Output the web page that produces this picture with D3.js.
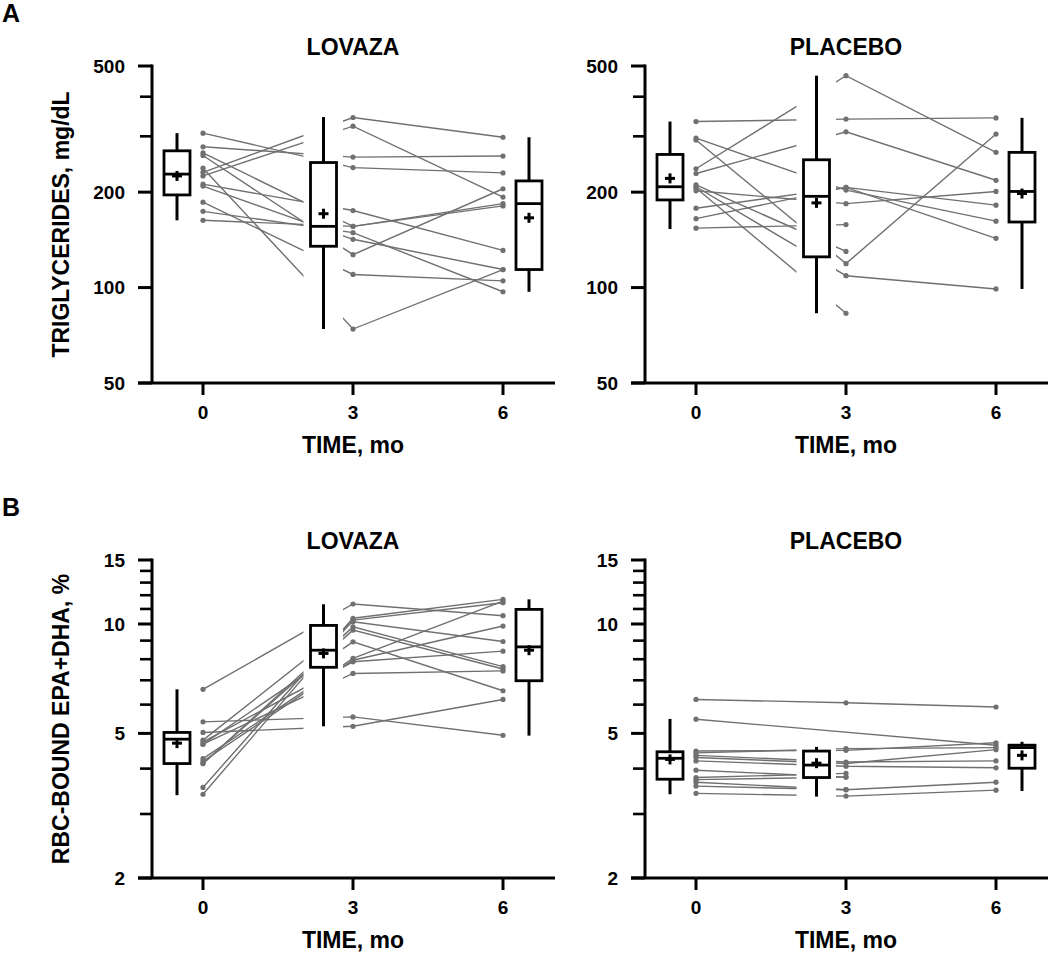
<!DOCTYPE html>
<html><head><meta charset="utf-8">
<script src="https://cdn.jsdelivr.net/npm/d3@7"></script>
<style>
body{margin:0;background:#fff}
svg{display:block}
text{font-family:"Liberation Sans",Arial,sans-serif;font-weight:bold;fill:#000}
</style>
</head><body>
<svg id="c" width="1050" height="953"></svg>
<script>
// ---------- DATA ----------
const months = [0, 3, 6];
const monthLabels = ["0", "3", "6"];
const groups = ["LOVAZA", "PLACEBO"];
const tgTicks = [50, 100, 200, 500];
const tgMinorTicks = [300, 400];
const rbcTicks = [2, 5, 10, 15];
const rbcMinorTicks = [3, 4, 6, 7, 8, 9, 11, 12, 13, 14];

// individual subjects: value at 0, 3, 6 months (null = missing)
const lovazaTG = [
  [307, 239, 230], [278, 258, 260], [261, 127, 205], [238, 74, 114],
  [231, 344, 298], [225, 323, 193], [212, 175, 131], [209, 142, 114],
  [186, 110, 105], [174, 149, 97], [163, 156, 184], [266, 156, 181]
];
const placeboTG = [
  [334, 340, 343], [237, 466, 267], [229, 310, 218], [296, 203, 162],
  [292, 119, 305], [178, 207, 182], [165, 207, 143], [154, 158, null],
  [211, 130, null], [208, 109, 99], [206, 83, null], [202, 184, 201]
];
const lovazaRBC = [
  [6.61, 11.35, 10.54], [5.38, 5.55, 4.94], [5.03, 5.23, 6.20], [4.74, 7.87, 8.42],
  [4.67, 7.31, 7.43], [4.67, 8.93, 6.55], [4.26, 8.04, 11.56], [4.19, 7.95, 9.87],
  [4.13, 9.62, 7.52], [4.13, 9.82, 7.63], [3.55, 10.37, 11.69], [3.40, 10.25, 11.44],
  [4.79, 10.14, 8.95]
];
const placeboRBC = [
  [6.20, 6.07, 5.91], [5.47, null, 4.64], [4.47, 4.49, 4.71], [4.42, 4.54, 4.57],
  [4.35, 4.17, 4.20], [4.29, 4.13, 4.51], [4.20, 4.06, 4.02], [3.96, 3.79, null],
  [3.78, 3.88, null], [3.73, 3.79, null], [3.67, 3.50, 3.67], [3.58, 3.50, null],
  [3.42, 3.36, 3.49]
];

// box summaries per time point: [min, q1, median, q3, max, mean]
const lovazaTGBox = [[163, 196, 228, 270, 307, 225], [74, 135, 156, 248, 345, 171], [97, 114, 184, 217, 298, 166]];
const placeboTGBox = [[153, 189, 208, 263, 334, 221], [83, 125, 194, 253, 466, 185], [99, 161, 201, 267, 343, 198]];
const lovazaRBCBox = [[3.38, 4.13, 4.82, 5.03, 6.61, 4.70], [5.23, 7.60, 8.47, 9.91, 11.33, 8.30], [4.93, 6.98, 8.65, 10.97, 11.69, 8.47]];
const placeboRBCBox = [[3.40, 3.74, 4.27, 4.45, 5.48, 4.24], [3.35, 3.78, 4.09, 4.47, 4.59, 4.14], [3.47, 4.01, 4.57, 4.64, 4.74, 4.35]];

const rowLetters = ["A", "B"];
const yTitles = ["TRIGLYCERIDES, mg/dL", "RBC-BOUND EPA+DHA, %"];
const xTitle = "TIME, mo";

// ---------- LAYOUT ----------
const svg = d3.select("#c");
const rows = [
  {top: 66, bottom: 383, domain: [50, 500], ticks: tgTicks, minor: tgMinorTicks, data: [lovazaTG, placeboTG], box: [lovazaTGBox, placeboTGBox]},
  {top: 560, bottom: 878, domain: [2, 15], ticks: rbcTicks, minor: rbcMinorTicks, data: [lovazaRBC, placeboRBC], box: [lovazaRBCBox, placeboRBCBox]}
];
const axisXs = [152, 645];
const boxPos = [-0.52, 2.41, 6.52];
const boxHalf = 13;
const grey = "#707070";

rows.forEach((r, ri) => {
  // row letter
  svg.append("text").attr("x", 2).attr("y", r.top - 44).attr("font-size", 25).text(rowLetters[ri]);
  // y title
  svg.append("text")
    .attr("transform", `translate(69,${(r.top + r.bottom) / 2}) rotate(-90)`)
    .attr("text-anchor", "middle").attr("font-size", 23).text(yTitles[ri]);

  groups.forEach((gname, gi) => {
    const ax = axisXs[gi];
    const g = svg.append("g");
    const x = d3.scaleLinear().domain([0, 6]).range([ax + 51, ax + 351]);
    const y = d3.scaleLog().domain(r.domain).range([r.bottom, r.top]);
    const data = r.data[gi];
    const box = r.box[gi];

    // subject lines
    const line = d3.line().x(d => x(d[0])).y(d => y(d[1]));
    data.forEach(s => {
      const pts = months.map((m, i) => [m, s[i]]).filter(d => d[1] != null);
      g.append("path").attr("d", line(pts)).attr("fill", "none")
        .attr("stroke", grey).attr("stroke-width", 1.4);
    });
    // white knockout behind the 3-month box
    const b3 = box[1];
    const c3 = x(boxPos[1]);
    g.append("rect").attr("x", c3 - 20).attr("width", 39.5)
      .attr("y", y(b3[4]) - 6).attr("height", y(b3[0]) - y(b3[4]) + 12)
      .attr("fill", "#fff");
    // dots
    data.forEach(s => {
      months.forEach((m, i) => {
        if (s[i] == null) return;
        g.append("circle").attr("cx", x(m)).attr("cy", y(s[i])).attr("r", 2.6).attr("fill", grey);
      });
    });

    // boxes
    box.forEach((b, i) => {
      const cx = x(boxPos[i]);
      g.append("line").attr("x1", cx).attr("x2", cx).attr("y1", y(b[4])).attr("y2", y(b[0]))
        .attr("stroke", "#000").attr("stroke-width", 3);
      g.append("rect").attr("x", cx - boxHalf).attr("width", boxHalf * 2)
        .attr("y", y(b[3])).attr("height", y(b[1]) - y(b[3]))
        .attr("fill", "#fff").attr("stroke", "#000").attr("stroke-width", 2.8);
      g.append("line").attr("x1", cx - boxHalf).attr("x2", cx + boxHalf).attr("y1", y(b[2])).attr("y2", y(b[2]))
        .attr("stroke", "#000").attr("stroke-width", 2.8);
      const my = y(b[5]);
      g.append("line").attr("x1", cx - 5).attr("x2", cx + 5).attr("y1", my).attr("y2", my)
        .attr("stroke", "#000").attr("stroke-width", 3);
      g.append("line").attr("x1", cx).attr("x2", cx).attr("y1", my - 5).attr("y2", my + 5)
        .attr("stroke", "#000").attr("stroke-width", 3);
    });

    // y axis
    g.append("line").attr("x1", ax).attr("x2", ax).attr("y1", r.top - 1.5).attr("y2", r.bottom)
      .attr("stroke", "#000").attr("stroke-width", 3);
    r.ticks.forEach(t => {
      g.append("line").attr("x1", ax - 14).attr("x2", ax).attr("y1", y(t)).attr("y2", y(t))
        .attr("stroke", "#000").attr("stroke-width", 3);
      g.append("text").attr("x", ax - 27).attr("y", y(t)).attr("dy", "0.36em")
        .attr("text-anchor", "end").attr("font-size", 19).text(t);
    });
    r.minor.forEach(t => {
      g.append("line").attr("x1", ax - 12).attr("x2", ax).attr("y1", y(t)).attr("y2", y(t))
        .attr("stroke", "#000").attr("stroke-width", 2.6);
    });
    // x axis
    g.append("line").attr("x1", ax - 14).attr("x2", ax + 403).attr("y1", r.bottom).attr("y2", r.bottom)
      .attr("stroke", "#000").attr("stroke-width", 3);
    months.forEach((m, i) => {
      g.append("line").attr("x1", x(m)).attr("x2", x(m)).attr("y1", r.bottom).attr("y2", r.bottom + 12)
        .attr("stroke", "#000").attr("stroke-width", 3);
      g.append("text").attr("x", x(m)).attr("y", r.bottom + 36).attr("text-anchor", "middle")
        .attr("font-size", 19).text(monthLabels[i]);
    });
    g.append("text").attr("x", x(3)).attr("y", r.bottom + 70).attr("text-anchor", "middle")
      .attr("font-size", 23).text(xTitle);
    // panel title
    g.append("text").attr("x", x(3)).attr("y", r.top - 11).attr("text-anchor", "middle")
      .attr("font-size", 23).text(gname);
  });
});
</script>
</body></html>
